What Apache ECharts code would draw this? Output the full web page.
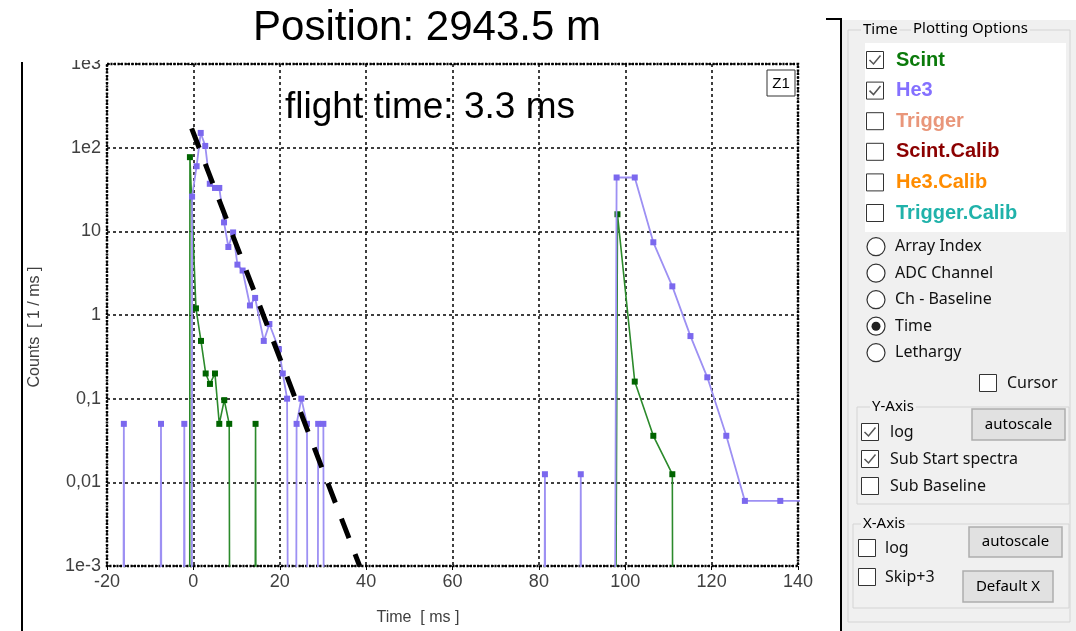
<!DOCTYPE html>
<html lang="en">
<head>
<meta charset="UTF-8">
<title>Position: 2943.5 m</title>
<script src="https://cdn.jsdelivr.net/npm/echarts@6.0.0/dist/echarts.min.js"></script>
<style>
  html, body { margin: 0; padding: 0; background: #fff; }
  #chart { width: 1076px; height: 631px; }
</style>
</head>
<body>
<div id="chart"></div>
<script>
// axis ticks
const xTicks = [-20, 0, 20, 40, 60, 80, 100, 120, 140];
const yTickValues = [0.001, 0.01, 0.1, 1, 10, 100, 1000];
const yTickLabels = ['1e-3', '0,01', '0,1', '1', '10', '1e2', '1e3'];

// He3 spectrum: [time ms, counts 1/ms], 0 = empty bin
const he3Points = [
  [-16.2, 0], [-16.1, 0.05], [-16.0, 0],
  [-7.6, 0], [-7.5, 0.05], [-7.4, 0],
  [-2.2, 0], [-2.1, 0.05], [-2.0, 0],
  [-0.35, 0], [-0.3, 26], [0.75, 60], [1.7, 150], [2.75, 105], [3.8, 37], [5.0, 33], [6.0, 33],
  [7.1, 12.8], [8.1, 6.5], [9.2, 9.7], [10.2, 4.0], [11.4, 3.4], [13.1, 1.3], [14.3, 1.6],
  [16.3, 0.49], [17.6, 0.78], [19.8, 0.39], [20.7, 0.2], [21.7, 0.1], [21.9, 0],
  [23.8, 0], [23.9, 0.05], [25.0, 0.1], [26.3, 0.05], [26.4, 0],
  [28.8, 0], [28.9, 0.05], [30.1, 0.05], [30.2, 0],
  [81.3, 0], [81.4, 0.0125], [81.5, 0],
  [89.6, 0], [89.7, 0.0125], [89.8, 0],
  [97.6, 0], [98.0, 44], [102.2, 44], [106.5, 7.4], [110.9, 2.2], [115.1, 0.56],
  [119.0, 0.18], [123.4, 0.036], [127.7, 0.006], [135.9, 0.006], [143, 0.006]
];

// Scint spectrum
const scintPoints = [
  [-0.85, 0], [-0.8, 77], [0.6, 1.2], [1.76, 0.49], [2.85, 0.2], [3.84, 0.15], [5.0, 0.2],
  [6.0, 0.05], [7.15, 0.096], [8.3, 0.05], [8.4, 0],
  [14.3, 0], [14.4, 0.05], [14.5, 0],
  [97.8, 0], [98.2, 16], [102.2, 0.16], [106.5, 0.036], [110.9, 0.0125], [111.0, 0]
];

// hand drawn exponential guide (flight time 3.3 ms)
const fitLine = [[-0.4, 170], [38.5, 0.001]];

// right hand control panel
const panelSeries = ['Scint', 'He3', 'Trigger', 'Scint.Calib', 'He3.Calib', 'Trigger.Calib'];
const panelChecked = [true, true, false, false, false, false];
const panelColors = ['#0b7a0b', '#8470ff', '#e9967a', '#8b0000', '#ff8c00', '#20b2aa'];
const modeOptions = ['Array Index', 'ADC Channel', 'Ch - Baseline', 'Time', 'Lethargy'];
const modeSelected = 'Time';

const EMPTY = 1e-4; // empty bins fall below the log axis and get clipped
const toSeries = pts => pts.map(p => [p[0], p[1] > 0 ? p[1] : EMPTY]);

const chart = echarts.init(document.getElementById('chart'));

const uiFont = '"Noto Sans", "DejaVu Sans", sans-serif';
const g = [];

function text(x, y, str, font, fill, align, extra) {
  g.push(Object.assign({
    type: 'text', x: x, y: y, z: 20,
    style: { text: str, font: font, fill: fill || '#000', align: align || 'left', verticalAlign: 'middle',
             textAlign: align || 'left', textVerticalAlign: 'middle' }
  }, extra || {}));
}
function checkbox(cx, cy, checked) {
  g.push({ type: 'rect', z: 20, shape: { x: cx - 8.5, y: cy - 8.5, width: 17, height: 17 },
           style: { fill: '#fff', stroke: '#333', lineWidth: 1 } });
  if (checked) {
    g.push({ type: 'polyline', z: 21, shape: { points: [[cx - 5.5, cy], [cx - 1.5, cy + 4], [cx + 5.5, cy - 4.5]] },
             style: { stroke: '#555', lineWidth: 1.5, fill: null } });
  }
}
function radio(cx, cy, on) {
  g.push({ type: 'circle', z: 20, shape: { cx: cx, cy: cy, r: 9 }, style: { fill: '#fff', stroke: '#333', lineWidth: 1.2 } });
  if (on) g.push({ type: 'circle', z: 21, shape: { cx: cx, cy: cy, r: 4.5 }, style: { fill: '#222' } });
}
function button(x, y, w, h, str) {
  g.push({ type: 'rect', z: 20, shape: { x: x, y: y, width: w, height: h },
           style: { fill: '#e1e1e1', stroke: '#adadad', lineWidth: 1.5 } });
  text(x + w / 2, y + h / 2, str, '15px ' + uiFont, '#000', 'center');
}
function boxTitle(x, y, str) {
  text(x, y, str, '15px ' + uiFont, '#000', 'left',
       { style: { text: str, font: '15px ' + uiFont, fill: '#000', align: 'left', verticalAlign: 'middle',
                  textAlign: 'left', textVerticalAlign: 'middle', backgroundColor: '#f0f0f0', padding: [0, 2] } });
}
function groupBox(x, y, w, h, title, tx) {
  g.push({ type: 'rect', z: 19, shape: { x: x, y: y, width: w, height: h },
           style: { fill: null, stroke: '#d4d4d4', lineWidth: 1 } });
  boxTitle(tx, y, title);
}

// overlays on the plot
text(427, 28, 'Position: 2943.5 m', '42px "Liberation Sans", Arial, sans-serif', '#000', 'center');
text(430, 108, 'flight time: 3.3 ms', '37px "Liberation Sans", Arial, sans-serif', '#000', 'center');
g.push({ type: 'rect', z: 20, shape: { x: 767, y: 70, width: 28, height: 26 }, style: { fill: '#fff', stroke: '#333', lineWidth: 1 } });
text(781, 84, 'Z1', '15px "Liberation Sans", Arial, sans-serif', '#000', 'center');
text(35, 327, 'Counts  [ 1 / ms ]', '16px "Liberation Sans", Arial, sans-serif', '#404040', 'center', { rotation: Math.PI / 2 });
text(418, 618, 'Time  [ ms ]', '16px "Liberation Sans", Arial, sans-serif', '#404040', 'center');
// window edges
g.push({ type: 'rect', z: 15, shape: { x: 40, y: 0, width: 66, height: 60 }, style: { fill: '#fff' } });
g.push({ type: 'line', z: 20, shape: { x1: 22, y1: 62, x2: 22, y2: 631 }, style: { stroke: '#000', lineWidth: 2 } });

// control panel
g.push({ type: 'rect', z: 18, shape: { x: 842, y: 20, width: 234, height: 611 }, style: { fill: '#f0f0f0' } });
g.push({ type: 'polyline', z: 20, shape: { points: [[826, 19], [841, 19], [841, 631]] }, style: { stroke: '#000', lineWidth: 2, fill: null } });
groupBox(848, 30, 222, 592, 'Time', 861);
boxTitle(911, 29, 'Plotting Options');
g.push({ type: 'rect', z: 19, shape: { x: 865, y: 43, width: 201, height: 189 }, style: { fill: '#fff' } });
panelSeries.forEach((name, i) => {
  const cy = 60 + i * 30.6;
  checkbox(875, cy, panelChecked[i]);
  text(896, cy, name, 'bold 20px "Liberation Sans", Arial, sans-serif', panelColors[i]);
});
modeOptions.forEach((name, i) => {
  const cy = 246.7 + i * 26.5;
  radio(876, cy, name === modeSelected);
  text(895, cy, name, '16px ' + uiFont, '#111');
});
checkbox(988, 383, false);
text(1007, 383, 'Cursor', '16px ' + uiFont, '#111');

groupBox(857, 407, 212, 97, 'Y-Axis', 870);
checkbox(870, 432, true);
text(890, 432, 'log', '16px ' + uiFont, '#111');
checkbox(870, 459, true);
text(890, 459, 'Sub Start spectra', '16px ' + uiFont, '#111');
checkbox(870, 486, false);
text(890, 486, 'Sub Baseline', '16px ' + uiFont, '#111');
button(972, 409, 93, 31, 'autoscale');

groupBox(853, 524, 216, 84, 'X-Axis', 861);
checkbox(867, 548, false);
text(885, 548, 'log', '16px ' + uiFont, '#111');
checkbox(867, 577, false);
text(885, 577, 'Skip+3', '16px ' + uiFont, '#111');
button(969, 527, 93, 30, 'autoscale');
button(963, 571, 90, 31, 'Default X');

const tickFont = { color: '#404040', fontSize: 18, fontFamily: '"Liberation Sans", Arial, sans-serif' };

const option = {
  animation: false,
  backgroundColor: '#fff',
  grid: {
    left: 107, top: 64, width: 691, height: 502,
    show: true, borderColor: '#000', borderWidth: 2.5, borderType: [2, 1.5], backgroundColor: 'transparent'
  },
  xAxis: {
    type: 'value', min: xTicks[0], max: xTicks[xTicks.length - 1], interval: 20,
    axisLine: { show: false },
    axisTick: { show: true, length: 4, lineStyle: { color: '#000' } },
    axisLabel: Object.assign({ margin: 7 }, tickFont),
    splitLine: { show: true, lineStyle: { color: '#000', type: [3, 3], width: 1.5 } }
  },
  yAxis: {
    type: 'log', logBase: 10, min: yTickValues[0], max: yTickValues[yTickValues.length - 1], splitNumber: 6,
    axisLine: { show: false },
    axisTick: { show: true, length: 4, lineStyle: { color: '#000' } },
    axisLabel: Object.assign({
      margin: 6,
      formatter: v => {
        const i = yTickValues.findIndex(t => Math.abs(Math.log10(t) - Math.log10(v)) < 1e-6);
        return i >= 0 ? yTickLabels[i] : '';
      }
    }, tickFont),
    splitLine: { show: true, lineStyle: { color: '#000', type: [3, 3], width: 1.5 } }
  },
  series: [
    {
      name: 'He3', type: 'line', z: 3, clip: true,
      data: toSeries(he3Points),
      symbol: 'rect', symbolSize: 6,
      itemStyle: { color: '#7b68ee' },
      lineStyle: { color: '#9d90f3', width: 1.8 }
    },
    {
      name: 'Scint', type: 'line', z: 2, clip: true,
      data: toSeries(scintPoints),
      symbol: 'rect', symbolSize: 6,
      itemStyle: { color: '#006400' },
      lineStyle: { color: '#2b8a2b', width: 1.6 }
    },
    {
      name: 'guide', type: 'line', z: 5, clip: true,
      data: fitLine, symbol: 'none',
      lineStyle: { color: '#000', width: 5, type: [21, 17] }
    }
  ],
  graphic: g
};

chart.setOption(option);
</script>
</body>
</html>
